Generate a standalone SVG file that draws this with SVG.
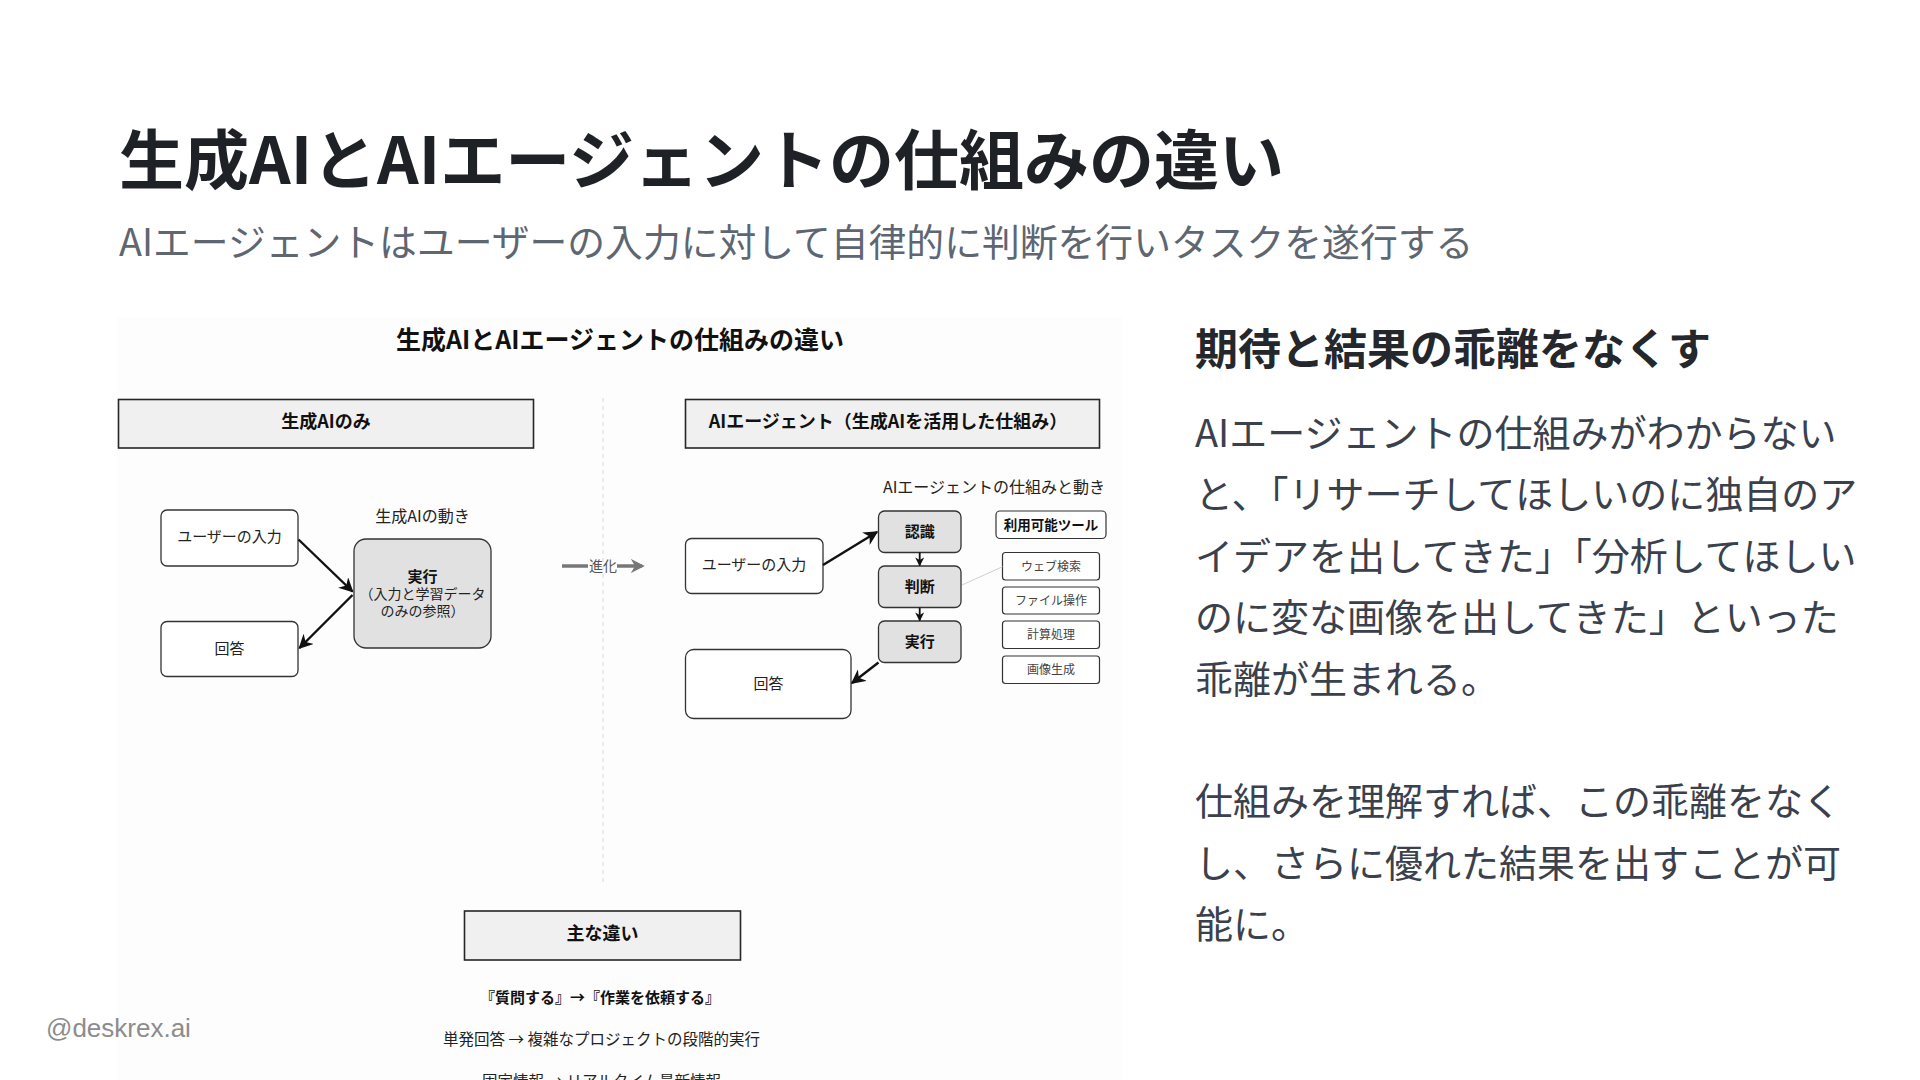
<svg xmlns="http://www.w3.org/2000/svg" width="1920" height="1080" viewBox="0 0 1920 1080">
<defs>
<style>
text{font-family:"Noto Sans CJK JP","Noto Sans",sans-serif;}
.t{font-size:65px;font-weight:700;fill:#1e2125;}
.sub{font-size:37.8px;fill:#5e6672;}
.h2{font-size:43px;font-weight:700;fill:#24272c;}
.body{font-size:38px;fill:#3a414c;}
.foot{font-family:"Liberation Sans",Arial,sans-serif;font-size:26px;fill:#8c8c8c;}
.c{text-anchor:middle;dominant-baseline:central;}
.dt{font-size:25px;font-weight:700;fill:#111;}
.hdr{fill:#f0f0f0;stroke:#262626;stroke-width:1.6;}
.hdrt{font-size:18px;font-weight:700;fill:#111;}
.box{fill:#ffffff;stroke:#333;stroke-width:1.3;}
.gbox{fill:#e1e1e1;stroke:#333;stroke-width:1.3;}
.tbox{fill:#ffffff;stroke:#333;stroke-width:1.2;}
.n{font-size:15px;fill:#222;}
.nb{font-size:15px;font-weight:700;fill:#111;}
.sm{font-size:14px;fill:#222;}
.tool{font-size:12px;fill:#444;}
.lbl{font-size:16px;fill:#222;}
.arr{stroke:#111;stroke-width:2.4;fill:none;marker-end:url(#ah);}
.arrs{stroke:#111;stroke-width:1.8;fill:none;marker-end:url(#ahs);}
</style>
<marker id="ah" viewBox="0 0 10 10" refX="9" refY="5" markerWidth="6" markerHeight="6" orient="auto" markerUnits="strokeWidth">
<path d="M0,0 L10,5 L0,10 L3,5 z" fill="#111"/>
</marker>
<marker id="ahs" viewBox="0 0 10 10" refX="9" refY="5" markerWidth="5" markerHeight="5" orient="auto" markerUnits="strokeWidth">
<path d="M0,0 L10,5 L0,10 L3,5 z" fill="#111"/>
</marker>
<marker id="ahg" viewBox="0 0 10 10" refX="8" refY="5" markerWidth="4" markerHeight="4" orient="auto" markerUnits="strokeWidth">
<path d="M0,0 L10,5 L0,10 L3,5 z" fill="#777"/>
</marker>
</defs>
<rect width="1920" height="1080" fill="#ffffff"/>

<text class="t" x="119" y="184">生成AIとAIエージェントの仕組みの違い</text>
<text class="sub" x="119" y="256">AIエージェントはユーザーの入力に対して自律的に判断を行いタスクを遂行する</text>

<!-- embedded diagram background -->
<rect x="117" y="317" width="1005" height="763" fill="#fdfdfd"/>

<text class="dt c" x="620" y="338">生成AIとAIエージェントの仕組みの違い</text>

<line x1="603" y1="398" x2="603" y2="882" stroke="#d8d8d8" stroke-width="1" stroke-dasharray="4 4"/>

<g id="hdr-gen">
<rect class="hdr" x="118.5" y="399.5" width="415" height="48.5"/>
<text class="hdrt c" x="326" y="419.5">生成AIのみ</text>
</g>
<g id="hdr-agent">
<rect class="hdr" x="685.5" y="399.5" width="414" height="48.5"/>
<text class="hdrt c" x="888" y="419.5">AIエージェント（生成AIを活用した仕組み）</text>
</g>

<text class="lbl c" x="422.5" y="515">生成AIの動き</text>
<text class="lbl c" x="994" y="486">AIエージェントの仕組みと動き</text>

<g id="l-input">
<rect class="box" x="161" y="510" width="137" height="56" rx="6"/>
<text class="n c" x="229.5" y="535.5">ユーザーの入力</text>
</g>
<g id="l-answer">
<rect class="box" x="161" y="621.5" width="137" height="55" rx="6"/>
<text class="n c" x="229.5" y="647">回答</text>
</g>
<g id="l-exec">
<rect class="gbox" x="354" y="539" width="137" height="109" rx="12"/>
<text class="nb c" x="422.5" y="575.5">実行</text>
<text class="sm c" x="422.5" y="593">（入力と学習データ</text>
<text class="sm c" x="422.5" y="610">のみの参照）</text>
</g>

<g id="evolve">
<line x1="562" y1="566" x2="588" y2="566" stroke="#777" stroke-width="3.5"/>
<text class="c" x="603" y="564.5" font-size="14" fill="#555">進化</text>
<line x1="617" y1="566" x2="642" y2="566" stroke="#777" stroke-width="3.5" marker-end="url(#ahg)"/>
</g>

<g id="r-input">
<rect class="box" x="685.5" y="538.5" width="137.5" height="55" rx="6"/>
<text class="n c" x="754" y="563.5">ユーザーの入力</text>
</g>
<g id="r-answer">
<rect class="box" x="685.5" y="649.5" width="165.5" height="69" rx="8"/>
<text class="n c" x="768.5" y="682">回答</text>
</g>
<g id="r-recog">
<rect class="gbox" x="878.5" y="511" width="82.5" height="41.5" rx="6"/>
<text class="nb c" x="919.7" y="530">認識</text>
</g>
<g id="r-judge">
<rect class="gbox" x="878.5" y="566" width="82.5" height="41.5" rx="6"/>
<text class="nb c" x="919.7" y="585">判断</text>
</g>
<g id="r-exec">
<rect class="gbox" x="878.5" y="621" width="82.5" height="41.5" rx="6"/>
<text class="nb c" x="919.7" y="640">実行</text>
</g>
<g id="tools-hdr">
<rect class="tbox" x="996" y="511" width="110" height="27.5" rx="4"/>
<text class="c" x="1051" y="523.5" font-size="13.5" font-weight="700" fill="#111">利用可能ツール</text>
</g>
<g id="tool-web">
<rect class="tbox" x="1002.5" y="552.5" width="97" height="27.5" rx="3"/>
<text class="tool c" x="1051" y="565">ウェブ検索</text>
</g>
<g id="tool-file">
<rect class="tbox" x="1002.5" y="587" width="97" height="27" rx="3"/>
<text class="tool c" x="1051" y="599">ファイル操作</text>
</g>
<g id="tool-calc">
<rect class="tbox" x="1002.5" y="621" width="97" height="27.5" rx="3"/>
<text class="tool c" x="1051" y="633.5">計算処理</text>
</g>
<g id="tool-img">
<rect class="tbox" x="1002.5" y="656" width="97" height="27.5" rx="3"/>
<text class="tool c" x="1051" y="668.5">画像生成</text>
</g>

<g id="connectors">
<line class="arr" x1="298.5" y1="539.5" x2="352.5" y2="591.5"/>
<line class="arr" x1="352.5" y1="595" x2="299.5" y2="648"/>
<line class="arr" x1="823" y1="565" x2="877" y2="532"/>
<line class="arr" x1="878.5" y1="662.5" x2="852" y2="683"/>
<line class="arrs" x1="919.7" y1="552.5" x2="919.7" y2="565.5"/>
<line class="arrs" x1="919.7" y1="607.5" x2="919.7" y2="620.5"/>
<line x1="962" y1="585" x2="1002.5" y2="566.7" stroke="#d0d0d0" stroke-width="1"/>
</g>

<g id="diff">
<rect class="hdr" x="464.5" y="911" width="276" height="49" stroke-width="1.8"/>
<text class="hdrt c" x="602.5" y="931.5">主な違い</text>
<text class="c" x="600" y="996" font-size="15" font-weight="700" fill="#111">『質問する』→『作業を依頼する』</text>
<text class="c" x="601.5" y="1038" font-size="15.5" fill="#222">単発回答 → 複雑なプロジェクトの段階的実行</text>
<text class="c" x="601.5" y="1080" font-size="15.5" fill="#222">固定情報 → リアルタイム最新情報</text>
</g>

<text class="h2" x="1195" y="364.5">期待と結果の乖離をなくす</text>
<text class="body" x="1195" y="447">AIエージェントの仕組みがわからない</text>
<text class="body" x="1195" y="508.4">と、「リサーチしてほしいのに独自のア</text>
<text class="body" x="1195" y="569.8">イデアを出してきた」「分析してほしい</text>
<text class="body" x="1195" y="631.2">のに変な画像を出してきた」といった</text>
<text class="body" x="1195" y="692.6">乖離が生まれる。</text>
<text class="body" x="1195" y="815.4">仕組みを理解すれば、この乖離をなく</text>
<text class="body" x="1195" y="876.8">し、さらに優れた結果を出すことが可</text>
<text class="body" x="1195" y="938.2">能に。</text>

<text class="foot" x="46" y="1037">@deskrex.ai</text>
</svg>
